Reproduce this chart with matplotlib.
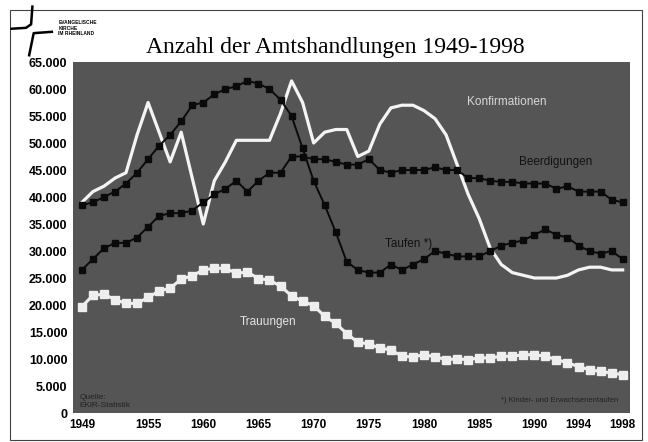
import numpy as np
import matplotlib.pyplot as plt
from matplotlib.lines import Line2D
from matplotlib.patches import Rectangle

# Jahre und Werte (in Tausend)
years = list(range(1949, 1999))

konfirmationen = [39.0, 41.0, 42.0, 43.5, 44.5, 51.5, 57.5, 52.0, 46.5, 52.0,
                  43.5, 35.0, 43.0, 46.5, 50.5, 50.5, 50.5, 50.5, 55.5, 61.5,
                  57.5, 50.0, 52.0, 52.5, 52.5, 47.5, 48.5, 53.5, 56.5, 57.0,
                  57.0, 56.0, 54.5, 51.5, 46.0, 40.5, 36.0, 30.5, 27.5, 26.0,
                  25.5, 25.0, 25.0, 25.0, 25.5, 26.5, 27.0, 27.0, 26.5, 26.5]

beerdigungen = [26.5, 28.5, 30.5, 31.5, 31.5, 32.5, 34.5, 36.5, 37.0, 37.0,
                37.5, 39.0, 40.5, 41.5, 43.0, 41.0, 43.0, 44.5, 44.5, 47.5,
                47.5, 47.0, 47.0, 46.5, 46.0, 46.0, 47.0, 45.0, 44.5, 45.0,
                45.0, 45.0, 45.5, 45.0, 45.0, 43.5, 43.5, 43.0, 42.8, 42.8,
                42.5, 42.5, 42.5, 41.5, 42.0, 41.0, 41.0, 41.0, 39.5, 39.0]

taufen = [38.5, 39.0, 40.0, 41.0, 42.5, 44.5, 47.0, 49.5, 51.5, 54.0,
          57.0, 57.5, 59.0, 60.0, 60.5, 61.5, 61.0, 60.0, 58.0, 55.0,
          49.0, 43.0, 38.5, 33.5, 28.0, 26.5, 26.0, 26.0, 27.5, 26.5,
          27.5, 28.5, 30.0, 29.5, 29.0, 29.0, 29.0, 30.0, 31.0, 31.5,
          32.0, 33.0, 34.0, 33.0, 32.5, 31.0, 30.0, 29.5, 30.0, 28.5]

trauungen = [19.7, 21.8, 22.0, 21.0, 20.3, 20.3, 21.4, 22.6, 23.1, 24.8,
             25.4, 26.5, 26.8, 26.8, 25.9, 26.1, 24.9, 24.6, 23.5, 21.7,
             20.7, 19.9, 17.9, 16.6, 14.7, 13.1, 12.8, 12.0, 11.7, 10.5,
             10.4, 10.8, 10.4, 9.9, 10.0, 9.9, 10.2, 10.2, 10.5, 10.5,
             10.8, 10.8, 10.5, 9.9, 9.3, 8.6, 8.0, 7.7, 7.4, 7.1]

xticks = [1949, 1955, 1960, 1965, 1970, 1975, 1980, 1985, 1990, 1994, 1998]
yticks = list(range(0, 65001, 5000))
ylabels = ['{:,}'.format(v).replace(',', '.') for v in yticks]

fig = plt.figure(figsize=(6.48, 4.42), dpi=100)
ax = fig.add_axes([0.1127, 0.0656, 0.8593, 0.7941])
ax.set_facecolor('#555555')

k = np.array(konfirmationen) * 1000
b = np.array(beerdigungen) * 1000
t = np.array(taufen) * 1000
tr = np.array(trauungen) * 1000

ax.plot(years, k, color='#f4f4f4', lw=2.3, zorder=3)
ax.plot(years, b, color='#0a0a0a', lw=1.4, marker='s', ms=3.8, zorder=4)
ax.plot(years, t, color='#0a0a0a', lw=1.4, marker='s', ms=3.8, zorder=4)
ax.plot(years, tr, color='#eeeeee', lw=2.2, marker='s', ms=5.5, zorder=3)

ax.set_xlim(1948.2, 1998.65)
ax.set_ylim(0, 65000)
ax.set_xticks(xticks)
ax.set_xticklabels([str(x) for x in xticks], fontsize=8.5, fontweight='bold',
                   family='Liberation Sans')
ax.set_yticks(yticks)
ax.set_yticklabels(ylabels, fontsize=9, fontweight='bold', family='Liberation Sans')
ax.tick_params(length=0, pad=4)
for s in ax.spines.values():
    s.set_visible(False)

# Beschriftungen der Linien
ax.text(1987.5, 57600, 'Konfirmationen', color='#d8d8d8', fontsize=8.5,
        ha='center', va='center', family='Liberation Sans')
ax.text(1991.9, 46500, 'Beerdigungen', color='#111111', fontsize=8.5,
        ha='center', va='center', family='Liberation Sans')
ax.text(1978.6, 31300, 'Taufen *)', color='#111111', fontsize=8.5,
        ha='center', va='center', family='Liberation Sans')
ax.text(1965.9, 16900, 'Trauungen', color='#e4e4e4', fontsize=8.5,
        ha='center', va='center', family='Liberation Sans')
ax.text(1948.8, 800, 'Quelle:\nEKiR-Statistik', color='#222222', fontsize=6,
        ha='left', va='bottom', family='Liberation Sans', linespacing=1.1)
ax.text(1997.6, 1600, '*) Kinder- und Erwachsenentaufen', color='#222222',
        fontsize=5.5, ha='right', va='bottom', family='Liberation Sans')

# Titel
fig.text(0.517, 0.893, 'Anzahl der Amtshandlungen 1949-1998', fontsize=17,
         family='Liberation Serif', ha='center', va='center')

# Logo oben links
fig.add_artist(Line2D([0.018, 0.04, 0.048, 0.05], [0.935, 0.937, 0.945, 0.985],
                      transform=fig.transFigure, color='black', lw=1.8))
fig.add_artist(Line2D([0.045, 0.052, 0.08], [0.875, 0.925, 0.928],
                      transform=fig.transFigure, color='black', lw=1.8))
fig.text(0.09, 0.955, 'EVANGELISCHE\nKIRCHE\nIM RHEINLAND', fontsize=3.5,
         fontweight='bold', family='Liberation Sans', va='top', ha='left',
         linespacing=1.2)

# Rahmen
fig.add_artist(Rectangle((0.016, 0.005), 0.975, 0.972, transform=fig.transFigure,
                         fill=False, lw=0.8, edgecolor='#444444'))

plt.savefig('out.png', dpi=100)
